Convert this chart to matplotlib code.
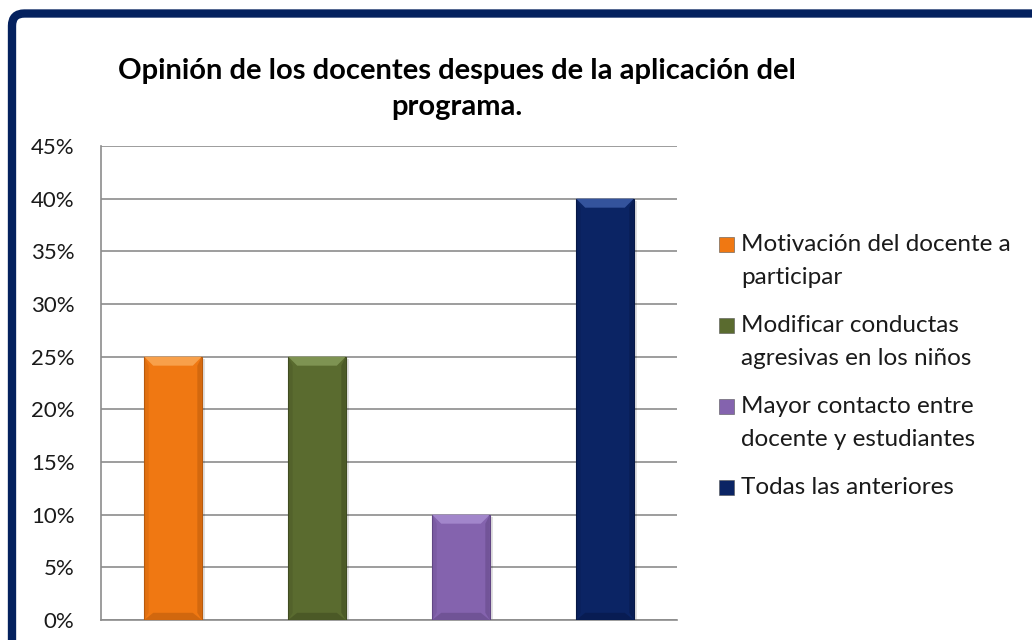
import matplotlib
matplotlib.use("Agg")
import matplotlib.pyplot as plt
from matplotlib.patches import Rectangle, Polygon, FancyBboxPatch
import numpy as np

plt.rcParams['font.family'] = ['Lato', 'DejaVu Sans']

categories = ['Motivación del docente a\nparticipar',
              'Modificar conductas\nagresivas en los niños',
              'Mayor contacto entre\ndocente y estudiantes',
              'Todas las anteriores']
values = [25, 25, 10, 40]
colors = ['#F07812', '#5A6B2F', '#8463AE', '#0B2464']
light = ['#F8A04A', '#7E9352', '#A286CB', '#34539C']
dark = ['#B85A0C', '#3F4B20', '#614684', '#061745']
yticks = [0, 5, 10, 15, 20, 25, 30, 35, 40, 45]
title = 'Opinión de los docentes despues de la aplicación del\nprograma.'

W, H = 1032, 640
fig = plt.figure(figsize=(W / 100, H / 100), dpi=100)
fig.patch.set_facecolor('white')

# plot area in pixels: x 101..677, y 146..620
ax = fig.add_axes([101 / W, 1 - 620 / H, 576 / W, 474 / H])
ax.set_xlim(0, len(values))
ax.set_ylim(0, 45)

grid_c = '#8C8C8C'
ax.set_yticks(yticks)
ax.set_yticklabels([f'{t}%' for t in yticks], fontsize=16, color='#1A1A1A')
ax.tick_params(axis='y', length=0, pad=19)
ax.set_xticks([])
ax.yaxis.grid(True, color=grid_c, linewidth=1.2)
ax.set_axisbelow(True)
for s in ['top', 'right']:
    ax.spines[s].set_visible(False)
for s in ['left', 'bottom']:
    ax.spines[s].set_color(grid_c)
    ax.spines[s].set_linewidth(1.2)

x = np.arange(len(values)) + 0.5
bw = 0.4
bars = ax.bar(x, values, width=bw, color=colors, edgecolor=dark, linewidth=0.8, zorder=3)

# bevel look like the office chart
by = 45 / 474 * 9   # ~9px in data units
bx = 1 / 144 * 9
for xi, v, c, lc, dc in zip(x, values, colors, light, dark):
    x0, x1 = xi - bw / 2, xi + bw / 2
    # soft shadow
    ax.add_patch(Rectangle((x1, 0), bx * 0.4, v - by * 0.3, color='#000000', alpha=0.12,
                           lw=0, zorder=2))
    ax.add_patch(Polygon([(x0, v), (x1, v), (x1 - bx, v - by), (x0 + bx, v - by)],
                         closed=True, color=lc, lw=0, zorder=4))
    ax.add_patch(Polygon([(x0, 0), (x1, 0), (x1 - bx, by * 0.8), (x0 + bx, by * 0.8)],
                         closed=True, color=dc, lw=0, alpha=0.55, zorder=4))
    ax.add_patch(Polygon([(x1, 0), (x1, v), (x1 - bx * 0.5, v - by), (x1 - bx * 0.5, by * 0.8)],
                         closed=True, color=dc, lw=0, alpha=0.5, zorder=4))
    ax.add_patch(Polygon([(x0, 0), (x0, v), (x0 + bx * 0.5, v - by), (x0 + bx * 0.5, by * 0.8)],
                         closed=True, color=dc, lw=0, alpha=0.25, zorder=4))

fig.text(457 / W, 1 - 89 / H, title, ha='center', va='center', fontsize=21,
         fontweight='bold', color='#000000', linespacing=1.5)

# legend, marker lines up with the first text line
line_h = 33
gap = 15
yc = 244
for lab, c, lc in zip(categories, colors, light):
    lines = lab.split('\n')
    fig.patches.append(Rectangle((719 / W, 1 - (yc + 7.5) / H), 15 / W, 15 / H,
                                 transform=fig.transFigure, facecolor=c,
                                 edgecolor='#555555', lw=0.4))
    for i, ln in enumerate(lines):
        fig.text(741 / W, 1 - (yc + i * line_h + 7) / H, ln, ha='left', va='baseline',
                 fontsize=17.5, color='#1A1A1A')
    yc += len(lines) * line_h + gap

# navy frame, only top and left sides fall inside the picture
frame = FancyBboxPatch((12 / W, -0.2), 1.3, 1.2 - 13.5 / H,
                       boxstyle='round,pad=0,rounding_size=0.012',
                       mutation_aspect=W / H, transform=fig.transFigure,
                       facecolor='none', edgecolor='#04215E', linewidth=6)
fig.patches.append(frame)

fig.savefig('out.png', dpi=100)
